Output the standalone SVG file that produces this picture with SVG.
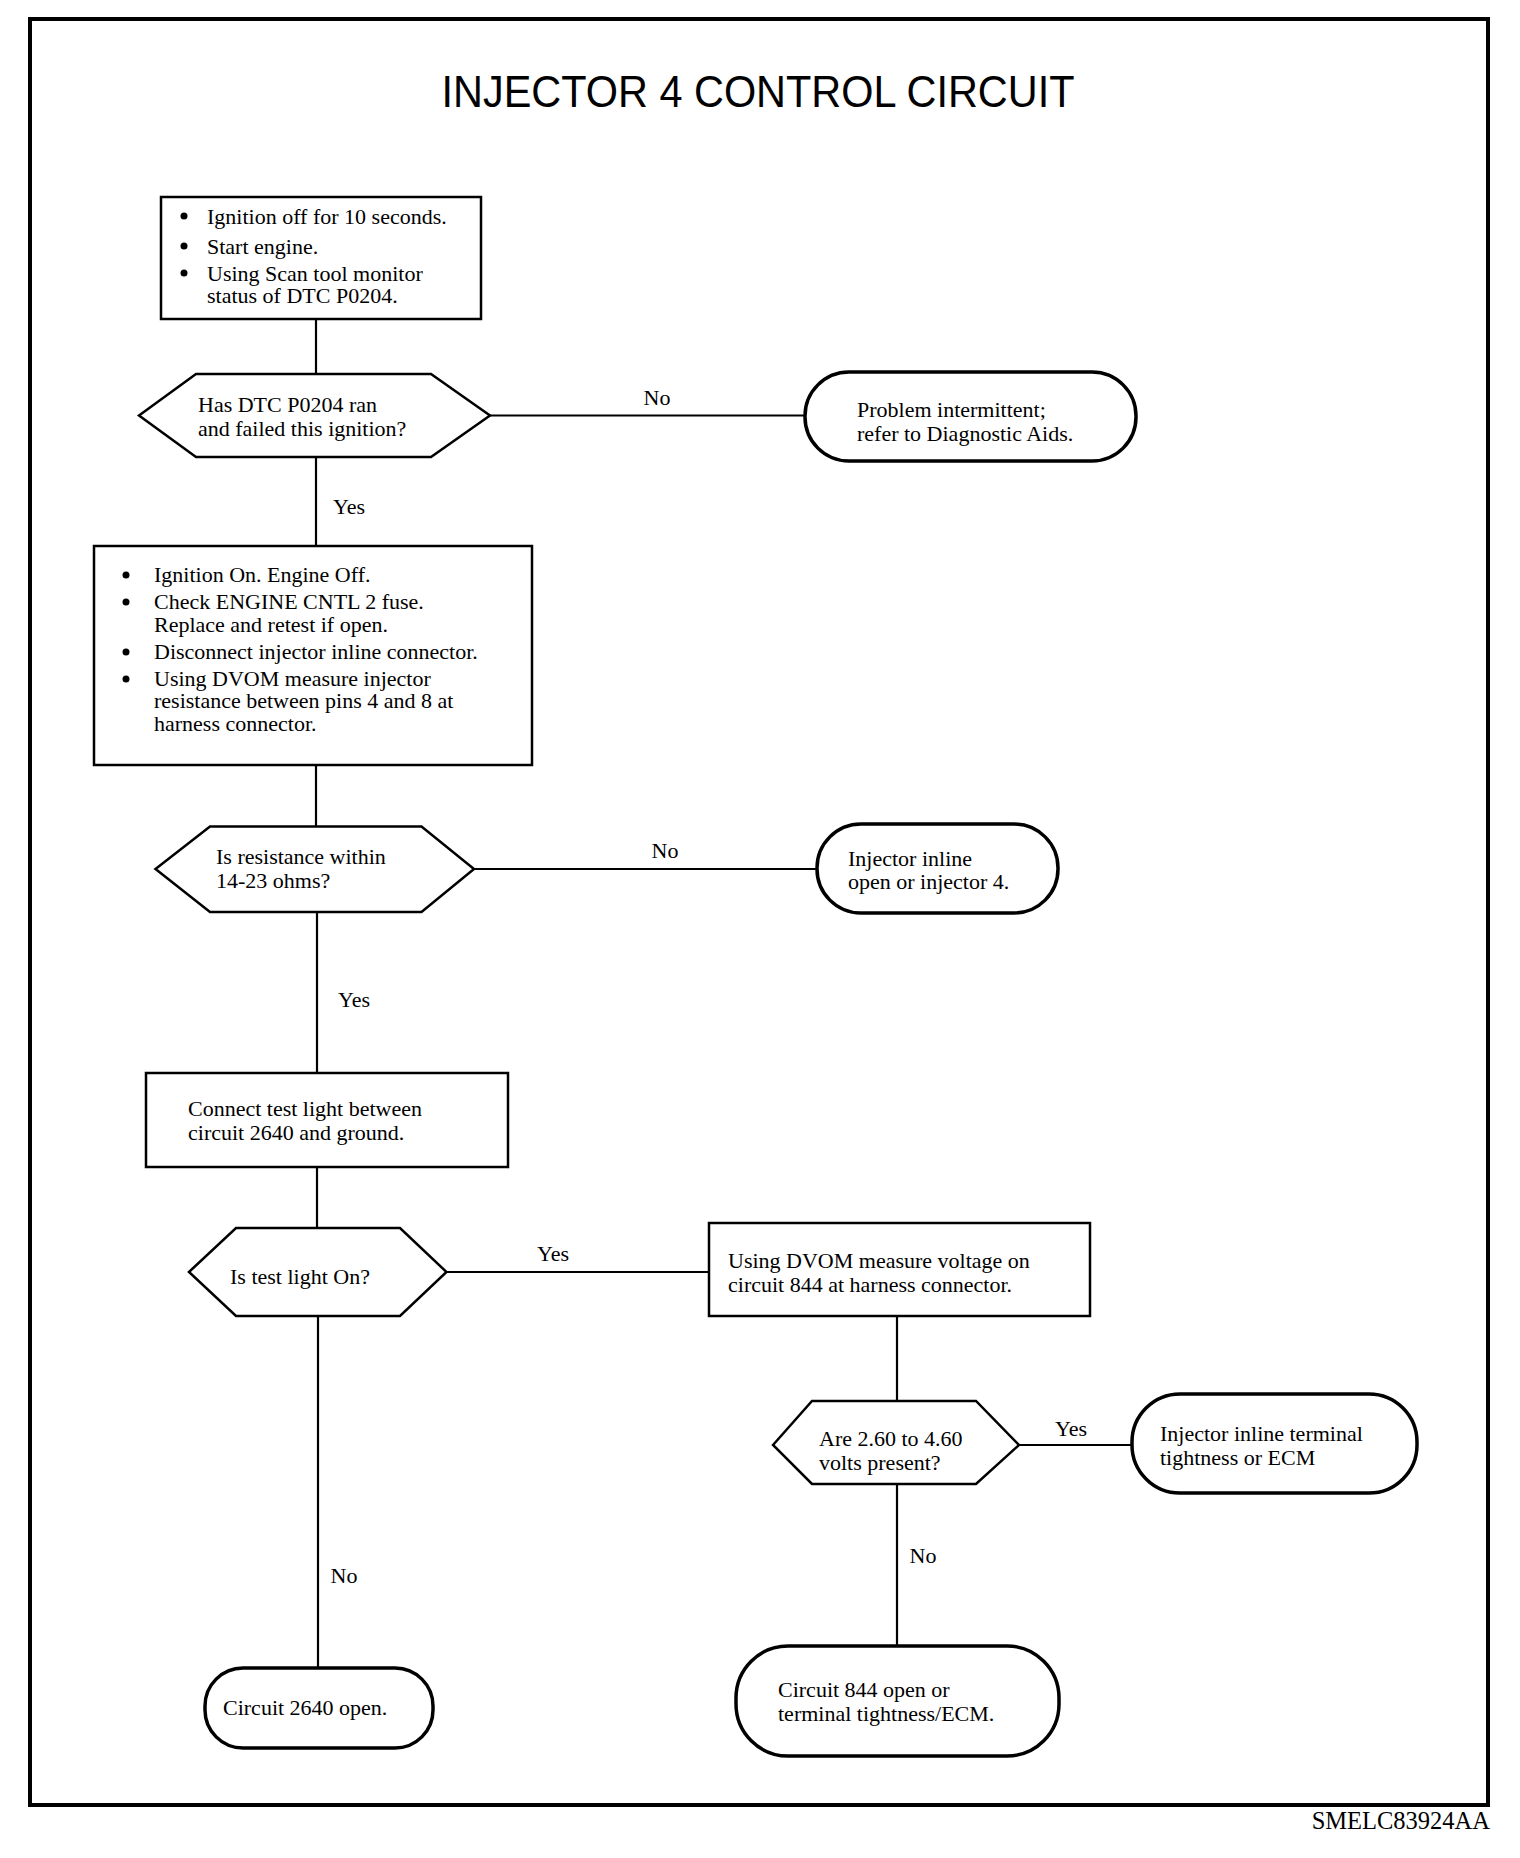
<svg xmlns="http://www.w3.org/2000/svg" width="1520" height="1858" viewBox="0 0 1520 1858">
<style>
text{font-family:"Liberation Serif","Times New Roman",serif;font-size:22px;fill:#000}
.title{font-family:"Liberation Sans",Arial,sans-serif;font-size:44px}
.foot{font-size:24.5px}
.box{fill:#fff;stroke:#000;stroke-width:2.5}
.dec{fill:#fff;stroke:#000;stroke-width:2.5}
.term{fill:#fff;stroke:#000;stroke-width:3.5}
.con{stroke:#000;stroke-width:2.2;fill:none}
.bul{fill:#000}
</style>
<rect x="0" y="0" width="1520" height="1858" fill="#fff"/>
<rect x="30" y="19" width="1458" height="1786" fill="none" stroke="#000" stroke-width="4"/>
<text class="title" x="758" y="107" text-anchor="middle" textLength="633" lengthAdjust="spacingAndGlyphs">INJECTOR 4 CONTROL CIRCUIT</text>

<g id="connectors">
<line class="con" x1="316" y1="319" x2="316" y2="374"/>
<line class="con" x1="490" y1="415.5" x2="805" y2="415.5"/>
<line class="con" x1="316" y1="457" x2="316" y2="546"/>
<line class="con" x1="316" y1="765" x2="316" y2="826.5"/>
<line class="con" x1="474" y1="869" x2="817" y2="869"/>
<line class="con" x1="317" y1="912" x2="317" y2="1073"/>
<line class="con" x1="317" y1="1167" x2="317" y2="1228"/>
<line class="con" x1="446.5" y1="1272" x2="709" y2="1272"/>
<line class="con" x1="897" y1="1316" x2="897" y2="1401"/>
<line class="con" x1="1019" y1="1445" x2="1132" y2="1445"/>
<line class="con" x1="897" y1="1484" x2="897" y2="1646"/>
<line class="con" x1="318" y1="1316" x2="318" y2="1668"/>
<text x="657" y="405" text-anchor="middle">No</text>
<text x="349" y="514" text-anchor="middle">Yes</text>
<text x="665" y="858" text-anchor="middle">No</text>
<text x="354" y="1007" text-anchor="middle">Yes</text>
<text x="553" y="1261" text-anchor="middle">Yes</text>
<text x="1071" y="1436" text-anchor="middle">Yes</text>
<text x="923" y="1563" text-anchor="middle">No</text>
<text x="344" y="1583" text-anchor="middle">No</text>
</g>

<g id="step1">
<rect class="box" x="161" y="197" width="320" height="122"/>
<circle class="bul" cx="184" cy="216" r="3.5"/>
<circle class="bul" cx="184" cy="246" r="3.5"/>
<circle class="bul" cx="184" cy="273" r="3.5"/>
<text x="207" y="224">Ignition off for 10 seconds.</text>
<text x="207" y="254">Start engine.</text>
<text x="207" y="281">Using Scan tool monitor</text>
<text x="207" y="303">status of DTC P0204.</text>
</g>

<g id="dec1">
<polygon class="dec" points="139,415.5 196,374 431,374 490,415.5 431,457 196,457"/>
<text x="198" y="412">Has DTC P0204 ran</text>
<text x="198" y="436">and failed this ignition?</text>
</g>

<g id="term1">
<rect class="term" x="805" y="372" width="331" height="89" rx="44" ry="44"/>
<text x="857" y="417">Problem intermittent;</text>
<text x="857" y="441">refer to Diagnostic Aids.</text>
</g>

<g id="step2">
<rect class="box" x="94" y="546" width="438" height="219"/>
<circle class="bul" cx="126" cy="575" r="3.5"/>
<circle class="bul" cx="126" cy="602" r="3.5"/>
<circle class="bul" cx="126" cy="652" r="3.5"/>
<circle class="bul" cx="126" cy="679" r="3.5"/>
<text x="154" y="582">Ignition On. Engine Off.</text>
<text x="154" y="609">Check ENGINE CNTL 2 fuse.</text>
<text x="154" y="632">Replace and retest if open.</text>
<text x="154" y="659">Disconnect injector inline connector.</text>
<text x="154" y="686">Using DVOM measure injector</text>
<text x="154" y="708">resistance between pins 4 and 8 at</text>
<text x="154" y="731">harness connector.</text>
</g>

<g id="dec2">
<polygon class="dec" points="155.5,869 210,826.5 421.5,826.5 474,869 421.5,912 210,912"/>
<text x="216" y="864">Is resistance within</text>
<text x="216" y="888">14-23 ohms?</text>
</g>

<g id="term2">
<rect class="term" x="817" y="824" width="241" height="89" rx="44" ry="44"/>
<text x="848" y="866">Injector inline</text>
<text x="848" y="889">open or injector 4.</text>
</g>

<g id="step3">
<rect class="box" x="146" y="1073" width="362" height="94"/>
<text x="188" y="1116">Connect test light between</text>
<text x="188" y="1140">circuit 2640 and ground.</text>
</g>

<g id="dec3">
<polygon class="dec" points="189,1272 236,1228 400,1228 446.5,1272 400,1316 236,1316"/>
<text x="230" y="1284">Is test light On?</text>
</g>

<g id="step4">
<rect class="box" x="709" y="1223" width="381" height="93"/>
<text x="728" y="1268">Using DVOM measure voltage on</text>
<text x="728" y="1292">circuit 844 at harness connector.</text>
</g>

<g id="dec4">
<polygon class="dec" points="773,1445 812,1401 976,1401 1019,1445 976,1484 812,1484"/>
<text x="819" y="1446">Are 2.60 to 4.60</text>
<text x="819" y="1470">volts present?</text>
</g>

<g id="term4">
<rect class="term" x="1132" y="1394" width="285" height="99" rx="48" ry="48"/>
<text x="1160" y="1441">Injector inline terminal</text>
<text x="1160" y="1465">tightness or ECM</text>
</g>

<g id="term5">
<rect class="term" x="736" y="1646" width="323" height="110" rx="52" ry="52"/>
<text x="778" y="1697">Circuit 844 open or</text>
<text x="778" y="1721">terminal tightness/ECM.</text>
</g>

<g id="term3">
<rect class="term" x="205" y="1668" width="228" height="80" rx="38" ry="38"/>
<text x="223" y="1715">Circuit 2640 open.</text>
</g>

<text class="foot" x="1490" y="1829" text-anchor="end">SMELC83924AA</text>
</svg>
